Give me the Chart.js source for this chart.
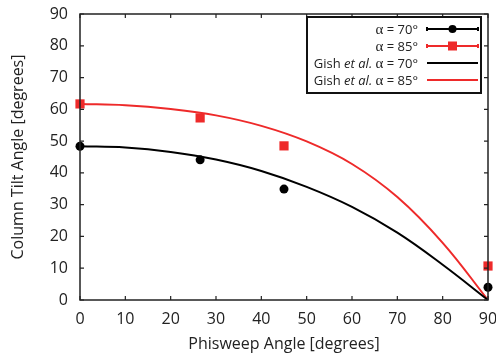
<!DOCTYPE html>
<html>
<head>
<meta charset="UTF-8">
<title>Column Tilt Angle</title>
<script src="https://cdn.jsdelivr.net/npm/chart.js"></script>
<style>
  html, body { margin: 0; padding: 0; background: #fff; }
  #wrap { width: 496px; height: 358px; }
</style>
</head>
<body>
<div id="wrap"><canvas id="myChart"></canvas></div>
<script>
// measured points
const measAngles = [0, 26.5, 45, 90];
const tilt70 = [48.4, 44.1, 34.9, 4.0];
const tilt85 = [61.7, 57.3, 48.5, 10.7];

// Gish et al. curves
const gishAngles = [0, 10, 20, 30, 40, 50, 60, 70, 80, 90];
const gish70 = [48.4, 48.0, 46.6, 44.2, 40.6, 35.6, 29.3, 21.2, 11.1, 0];
const gish85 = [61.7, 61.3, 60.1, 58.1, 54.8, 49.9, 42.8, 32.4, 18.0, 0];

const labels = ['α = 70°', 'α = 85°', 'Gish et al. α = 70°', 'Gish et al. α = 85°'];
const xTicks = [0, 10, 20, 30, 40, 50, 60, 70, 80, 90];
const yTicks = [0, 10, 20, 30, 40, 50, 60, 70, 80, 90];

const FONT = '"Open Sans", "Noto Sans", sans-serif';
const RED = '#ee2a2a';
const BLACK = '#000';

function pts(xs, ys) {
  return xs.map((x, i) => ({x: x, y: ys[i]}));
}

// inward ticks on all four sides + box frame
const frame = {
  id: 'frame',
  afterDraw(chart) {
    const ctx = chart.ctx;
    const a = chart.chartArea;
    const xs = chart.scales.x, ys = chart.scales.y;
    ctx.save();
    ctx.strokeStyle = '#222';
    ctx.lineWidth = 1.2;
    ctx.beginPath();
    xTicks.forEach(v => {
      const px = xs.getPixelForValue(v);
      ctx.moveTo(px, a.bottom); ctx.lineTo(px, a.bottom - 4);
      ctx.moveTo(px, a.top); ctx.lineTo(px, a.top + 4);
    });
    yTicks.forEach(v => {
      const py = ys.getPixelForValue(v);
      ctx.moveTo(a.left, py); ctx.lineTo(a.left + 4, py);
      ctx.moveTo(a.right, py); ctx.lineTo(a.right - 4, py);
    });
    ctx.stroke();
    ctx.lineWidth = 1.5;
    ctx.strokeRect(a.left, a.top, a.right - a.left, a.bottom - a.top);
    ctx.restore();
  }
};

// legend: text on the left, sample on the right, boxed
function segments(label) {
  const out = [];
  let rest = label;
  const i = rest.indexOf('et al.');
  if (i >= 0) {
    out.push([rest.slice(0, i), 'normal']);
    out.push(['et al.', 'italic']);
    rest = rest.slice(i + 6);
  }
  const j = rest.indexOf('α');
  out.push([rest.slice(0, j), 'normal']);
  out.push(['α', 'serif']);
  out.push([rest.slice(j + 1), 'normal']);
  return out;
}
function fontFor(kind) {
  if (kind === 'italic') return 'italic 13px ' + FONT;
  if (kind === 'serif') return '15px "Liberation Serif", "DejaVu Serif", serif';
  return '13px ' + FONT;
}

const boxLegend = {
  id: 'boxLegend',
  afterDraw(chart) {
    const ctx = chart.ctx;
    const a = chart.chartArea;
    const right = a.right - 7, top = a.top + 3;
    const w = 174, h = 76;
    ctx.save();
    ctx.fillStyle = '#fff';
    ctx.fillRect(right - w, top, w, h);
    ctx.strokeStyle = '#111';
    ctx.lineWidth = 2;
    ctx.strokeRect(right - w, top, w, h);
    chart.data.datasets.forEach((ds, k) => {
      const cy = top + 12 + k * 17;
      const segs = segments(ds.label);
      let total = 0;
      segs.forEach(s => { ctx.font = fontFor(s[1]); total += ctx.measureText(s[0]).width; });
      let x = right - 63 - total;
      ctx.fillStyle = '#222';
      ctx.textBaseline = 'middle';
      segs.forEach(s => {
        ctx.font = fontFor(s[1]);
        ctx.fillText(s[0], x, cy + 1);
        x += ctx.measureText(s[0]).width;
      });
      const x0 = right - 54, x1 = right - 3;
      ctx.strokeStyle = ds.borderColor;
      ctx.lineWidth = 2;
      ctx.beginPath();
      ctx.moveTo(x0, cy); ctx.lineTo(x1, cy);
      if (!ds.showLine) {
        ctx.moveTo(x0, cy - 2); ctx.lineTo(x0, cy + 2);
        ctx.moveTo(x1, cy - 2); ctx.lineTo(x1, cy + 2);
      }
      ctx.stroke();
      if (!ds.showLine) {
        ctx.fillStyle = ds.backgroundColor;
        const mx = (x0 + x1) / 2;
        if (ds.pointStyle === 'rect') {
          ctx.fillRect(mx - 4.5, cy - 4.5, 9, 9);
        } else {
          ctx.beginPath(); ctx.arc(mx, cy, 4, 0, Math.PI * 2); ctx.fill();
        }
      }
    });
    ctx.restore();
  }
};

const ctx = document.getElementById('myChart').getContext('2d');
const chart = new Chart(ctx, {
  type: 'scatter',
  data: {
    datasets: [
      { label: labels[0], data: pts(measAngles, tilt70), showLine: false,
        pointStyle: 'circle', pointRadius: 4.5, pointHoverRadius: 4.5,
        backgroundColor: BLACK, borderColor: BLACK, borderWidth: 0, clip: false, order: 0 },
      { label: labels[1], data: pts(measAngles, tilt85), showLine: false,
        pointStyle: 'rect', pointRadius: 6.5, pointHoverRadius: 6.5,
        backgroundColor: RED, borderColor: RED, borderWidth: 0, clip: false, order: 0 },
      { label: labels[2], data: pts(gishAngles, gish70), showLine: true, pointRadius: 0,
        borderColor: BLACK, backgroundColor: BLACK, borderWidth: 2, tension: 0.4, order: 1 },
      { label: labels[3], data: pts(gishAngles, gish85), showLine: true, pointRadius: 0,
        borderColor: RED, backgroundColor: RED, borderWidth: 2, tension: 0.4, order: 1 }
    ]
  },
  options: {
    responsive: true,
    maintainAspectRatio: false,
    animation: false,
    layout: { padding: { top: 14, right: 8, left: 0, bottom: 0 } },
    plugins: { legend: { display: false }, tooltip: { enabled: false } },
    scales: {
      x: {
        type: 'linear', min: 0, max: 90,
        afterBuildTicks: s => { s.ticks = xTicks.map(v => ({value: v})); },
        afterFit: s => { s.height = 58; s.paddingLeft = 0; s.paddingRight = 0; },
        grid: { display: false, drawTicks: false },
        border: { display: false },
        ticks: { color: '#222', padding: 10, maxRotation: 0, font: { family: FONT, size: 16 } },
        title: { display: true, text: 'Phisweep Angle [degrees]', color: '#222',
                 padding: { top: 0, bottom: 4 }, font: { family: FONT, size: 16 } }
      },
      y: {
        type: 'linear', min: 0, max: 90,
        afterBuildTicks: s => { s.ticks = yTicks.map(v => ({value: v})); },
        afterFit: s => { s.width = 80; s.paddingTop = 0; s.paddingBottom = 0; },
        grid: { display: false, drawTicks: false },
        border: { display: false },
        ticks: { color: '#222', padding: 12, font: { family: FONT, size: 16 } },
        title: { display: true, text: 'Column Tilt Angle [degrees]', color: '#222',
                 padding: { top: 9, bottom: 0 }, font: { family: FONT, size: 16 } }
      }
    }
  },
  plugins: [frame, boxLegend]
});
</script>
</body>
</html>
